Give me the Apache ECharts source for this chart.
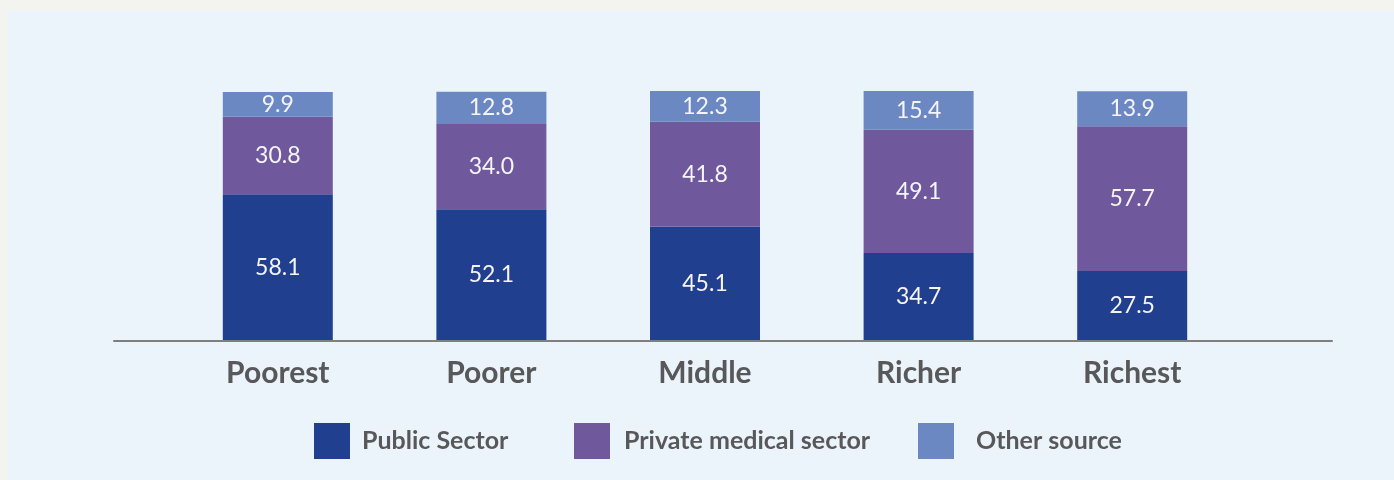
<!DOCTYPE html>
<html>
<head>
<meta charset="utf-8">
<script src="https://cdn.jsdelivr.net/npm/echarts@6/dist/echarts.min.js"></script>
<style>
  html, body { margin: 0; padding: 0; background: #F3F3EF; }
  #chart { width: 1394px; height: 480px; }
</style>
</head>
<body>
<div id="chart"></div>
<script>
// wealth quintiles
const categories = ['Poorest', 'Poorer', 'Middle', 'Richer', 'Richest']

// share by source (%)
const publicSector = [58.1, 52.1, 45.1, 34.7, 27.5]
const privateMedical = [30.8, 34.0, 41.8, 49.1, 57.7]
const otherSource = [9.9, 12.8, 12.3, 15.4, 13.9]

const colors = ['#213F8F', '#70589C', '#6B88C3']
const textColor = '#58585A'
const fontFamily = 'Lato, "Noto Sans", sans-serif'

const chart = echarts.init(document.getElementById('chart'))

const barLabel = {
  show: true,
  position: 'inside',
  color: '#F4F4FA',
  fontSize: 23,
  fontFamily: fontFamily,
  formatter: p => p.value.toFixed(1)
}

function legendAt (name, left, gap) {
  return {
    data: [name],
    left: left,
    top: 423,
    padding: 0,
    icon: 'rect',
    itemWidth: 36,
    itemHeight: 36,
    selectedMode: false,
    textStyle: {
      color: textColor,
      fontSize: 25,
      fontWeight: 'bold',
      fontFamily: fontFamily,
      padding: [0, 0, 0, gap]
    }
  }
}

chart.setOption({
  backgroundColor: '#F3F3EF',
  animation: false,
  graphic: [{
    type: 'rect',
    z: -10,
    shape: { x: 8, y: 11, width: 1386, height: 469 },
    style: { fill: '#ECF4FB' }
  }],
  legend: [
    legendAt('Public Sector', 314, 7),
    legendAt('Private medical sector', 574, 9),
    legendAt('Other source', 918, 17)
  ],
  grid: [
    { left: 171, right: 155, top: 91, bottom: 140 },
    { left: 114, right: 62, top: 91, bottom: 139 }
  ],
  xAxis: [{
    type: 'category',
    gridIndex: 0,
    data: categories,
    axisLine: { show: false },
    axisTick: { show: false },
    axisLabel: {
      margin: 18,
      color: textColor,
      fontSize: 30,
      fontWeight: 'bold',
      fontFamily: fontFamily
    }
  }, {
    // baseline only
    type: 'category',
    gridIndex: 1,
    data: [''],
    axisLine: { show: true, lineStyle: { color: '#7F7F7F', width: 2 } },
    axisTick: { show: false },
    axisLabel: { show: false }
  }],
  yAxis: [{
    type: 'value',
    gridIndex: 0,
    min: 0,
    max: 99.2,
    show: false
  }, {
    type: 'value',
    gridIndex: 1,
    show: false
  }],
  series: [{
    name: 'Public Sector',
    type: 'bar',
    stack: 'total',
    barWidth: 110,
    itemStyle: { color: colors[0] },
    label: barLabel,
    data: publicSector
  }, {
    name: 'Private medical sector',
    type: 'bar',
    stack: 'total',
    barWidth: 110,
    itemStyle: { color: colors[1] },
    label: barLabel,
    data: privateMedical
  }, {
    name: 'Other source',
    type: 'bar',
    stack: 'total',
    barWidth: 110,
    itemStyle: { color: colors[2] },
    label: barLabel,
    data: otherSource
  }]
})
</script>
</body>
</html>
